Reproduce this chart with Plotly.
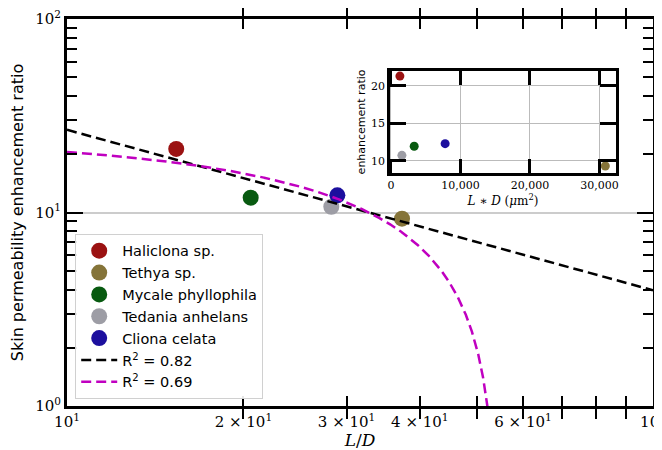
import numpy as np
import plotly.graph_objects as go

# ---- data ----
species = ["Haliclona sp.", "Tethya sp.", "Mycale phyllophila", "Tedania anhelans", "Cliona celata"]
colors = ["#9b1212", "#857439", "#085a10", "#9d9da5", "#1c0f9e"]
l_over_d = [15.36, 37.3, 20.58, 28.25, 28.93]
enhancement = [21.3, 9.29, 11.93, 10.71, 12.27]
l_times_d = [1290, 30850, 3350, 1580, 7800]
fit_labels = ["R<sup>2</sup> = 0.82", "R<sup>2</sup> = 0.69"]

x_tick_vals = [10, 20, 30, 40, 50, 60, 70, 80, 90, 100]
x_tick_text = ["10<sup>1</sup>", "2 × 10<sup>1</sup>", "3 × 10<sup>1</sup>", "4 × 10<sup>1</sup>", "",
               "6 × 10<sup>1</sup>", "", "", "", "10<sup>2</sup>"]
y_tick_vals = [1, 10, 100]
y_tick_text = ["10<sup>0</sup>", "10<sup>1</sup>", "10<sup>2</sup>"]
y_minor_vals = [2, 3, 4, 5, 6, 7, 8, 9, 20, 30, 40, 50, 60, 70, 80, 90]
inset_x_ticks = [0, 10000, 20000, 30000]
inset_x_text = ["0", "10,000", "20,000", "30,000"]
inset_y_ticks = [10, 15, 20]

# ---- fits derived from the data ----
xa = np.array(l_over_d)
ya = np.array(enhancement)
k_pow, c_pow = np.polyfit(np.log10(xa), np.log10(ya), 1)
b_lin, a_lin = np.polyfit(xa, ya, 1)
xf_pow = np.logspace(1, 2, 200)
yf_pow = 10 ** (c_pow + k_pow * np.log10(xf_pow))
xf_lin = np.linspace(10, 100, 3000)
yf_lin = a_lin + b_lin * xf_lin
m = yf_lin > 0.3
xf_lin, yf_lin = xf_lin[m], yf_lin[m]

SERIF = "DejaVu Serif"
SANS = "DejaVu Sans"

fig = go.Figure()
# dummy trace so the minor-tick overlay axis is drawn
fig.add_trace(go.Scatter(x=[None], y=[None], yaxis="y3", showlegend=False, hoverinfo="skip"))
for name, col, xv, yv in zip(species, colors, l_over_d, enhancement):
    fig.add_trace(go.Scatter(x=[xv], y=[yv], mode="markers", name=name,
                             marker=dict(color=col, size=16, line=dict(width=0))))
fig.add_trace(go.Scatter(x=xf_pow, y=yf_pow, mode="lines", name=fit_labels[0],
                         line=dict(color="black", width=2.5, dash="10px,5px")))
fig.add_trace(go.Scatter(x=xf_lin, y=yf_lin, mode="lines", name=fit_labels[1],
                         line=dict(color="#c000c0", width=2.5, dash="10px,5px")))

# inset
for name, col, xv, yv in zip(species, colors, l_times_d, enhancement):
    fig.add_trace(go.Scatter(x=[xv], y=[yv], mode="markers", showlegend=False,
                             xaxis="x2", yaxis="y2",
                             marker=dict(color=col, size=9, line=dict(width=0))))

# page body has an 8px default margin: figure is sized/offset to compensate
fig.update_layout(
    width=654, height=442,
    margin=dict(l=59, r=9, t=11, b=44, autoexpand=False),
    paper_bgcolor="white", plot_bgcolor="white",
    showlegend=True,
    legend=dict(x=0.014, y=0.445, xanchor="left", yanchor="top",
                bgcolor="rgba(255,255,255,0.9)", bordercolor="#d0d0d0", borderwidth=1,
                font=dict(family=SANS, size=14.5, color="black"), itemwidth=36),
    xaxis=dict(type="log", range=[1, 2], domain=[0, 1], automargin=False,
               showline=True, linecolor="black", linewidth=3, mirror="allticks",
               ticks="inside", ticklen=10, tickwidth=2, tickcolor="black",
               tickmode="array", tickvals=x_tick_vals, ticktext=x_tick_text,
               ticklabeloverflow="allow",
               tickfont=dict(family=SERIF, size=15, color="black"),
               showgrid=False, zeroline=False,
               title=dict(text="<i>L</i>/<i>D</i>", font=dict(family=SERIF, size=17, color="black"),
                          standoff=0)),
    yaxis=dict(type="log", range=[0, 2], domain=[0, 1], automargin=False,
               showline=True, linecolor="black", linewidth=3, mirror="allticks",
               ticks="inside", ticklen=16, tickwidth=2, tickcolor="black",
               tickmode="array", tickvals=y_tick_vals, ticktext=y_tick_text,
               ticklabeloverflow="allow",
               tickfont=dict(family=SERIF, size=15, color="black"),
               showgrid=True, gridcolor="#cccccc", gridwidth=1.5, zeroline=False,
               title=dict(text="Skin permeability enhancement ratio",
                          font=dict(family=SANS, size=16, color="black"), standoff=8)),
    yaxis3=dict(type="log", range=[0, 2], overlaying="y", anchor="x", side="left",
                automargin=False, showline=True, linecolor="black", linewidth=3, mirror="allticks",
                ticks="inside", ticklen=10, tickwidth=2, tickcolor="black",
                tickmode="array", tickvals=y_minor_vals, showticklabels=False,
                showgrid=False, zeroline=False),
    xaxis2=dict(domain=[0.551, 0.937], anchor="y2", range=[-150, 32400], automargin=False,
                showline=True, linecolor="black", linewidth=2.5, mirror="allticks",
                ticks="inside", ticklen=14, tickwidth=2.5, tickcolor="black",
                tickmode="array", tickvals=inset_x_ticks, ticktext=inset_x_text,
                tickfont=dict(family=SERIF, size=11, color="black"),
                showgrid=True, gridcolor="#bbbbbb", gridwidth=1, zeroline=False,
                title=dict(text="<i>L</i> ∗ <i>D</i> (<i>μ</i>m<sup>2</sup>)",
                           font=dict(family=SERIF, size=12, color="black"), standoff=2)),
    yaxis2=dict(domain=[0.602, 0.866], anchor="x2", range=[8.35, 22.0], automargin=False,
                showline=True, linecolor="black", linewidth=2.5, mirror="allticks",
                ticks="inside", ticklen=16, tickwidth=2.5, tickcolor="black",
                tickmode="array", tickvals=inset_y_ticks,
                tickfont=dict(family=SERIF, size=11, color="black"),
                showgrid=True, gridcolor="#bbbbbb", gridwidth=1, zeroline=False,
                title=dict(text="enhancement ratio", font=dict(family=SANS, size=11, color="black"),
                           standoff=4)),
    shapes=[dict(type="rect", xref="paper", yref="paper", x0=0.53, x1=0.945, y0=0.53, y1=0.875,
                 fillcolor="white", line=dict(width=0), layer="below")],
)

fig.write_html("out.html")
